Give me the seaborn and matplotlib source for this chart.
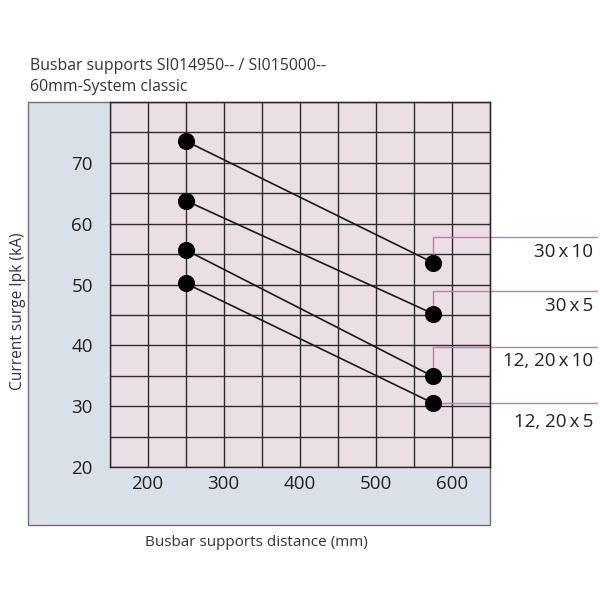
import matplotlib
matplotlib.use("Agg")
import matplotlib.pyplot as plt
from matplotlib.patches import Rectangle
import numpy as np
import pandas as pd
import seaborn as sns

# data
series = ["30x10", "30x5", "12, 20x10", "12, 20x5"]
dist_left = [250, 250, 250, 250]
dist_right = [575, 575, 575, 575]
ipk_left = [73.6, 63.8, 55.7, 50.2]
ipk_right = [53.6, 45.2, 34.9, 30.5]
label_line_y = [57.8, 49.0, 39.8, 30.5]   # kA level of the pink leader lines
label_text_y = [55.4, 46.4, 37.4, 27.4]
xticks = [200, 300, 400, 500, 600]
yticks = [20, 30, 40, 50, 60, 70]

rows = []
for s, x0, x1, y0, y1 in zip(series, dist_left, dist_right, ipk_left, ipk_right):
    rows.append({"series": s, "dist": x0, "ipk": y0})
    rows.append({"series": s, "dist": x1, "ipk": y1})
df = pd.DataFrame(rows)

sns.set_theme(style="white")
plt.rcParams['font.family'] = ['Open Sans', 'DejaVu Sans']

fig = plt.figure(figsize=(6, 6), dpi=100)
fig.patch.set_facecolor("white")

# blue backdrop panel
fig.patches.append(Rectangle((28 / 600, 1 - 525 / 600), (490 - 28) / 600, (525 - 102) / 600,
                             transform=fig.transFigure, facecolor="#d9e0e8",
                             edgecolor="#707070", linewidth=1.0, zorder=-1))

ax = fig.add_axes([109.5 / 600, 1 - 467 / 600, (490 - 109.5) / 600, (467 - 102) / 600])
ax.set_zorder(1)
ax.set_facecolor("#e9dfe5")
ax.set_xlim(150, 650)
ax.set_ylim(20, 80)
ax.set_xticks(np.arange(150, 651, 50), minor=True)
ax.set_yticks(np.arange(20, 81, 5), minor=True)
ax.set_xticks(xticks)
ax.set_yticks(yticks)
ax.grid(which="both", color="#2b2b2b", linewidth=1.0)
ax.set_axisbelow(True)
for sp in ax.spines.values():
    sp.set_color("#2b2b2b")
    sp.set_linewidth(1.0)
ax.tick_params(which="both", length=0, labelsize=13.5, colors="#222222")
ax.tick_params(axis="x", pad=6)
ax.tick_params(axis="y", pad=12)

for s in series:
    d = df[df["series"] == s]
    sns.lineplot(data=d, x="dist", y="ipk", ax=ax, color="#1a1a1a", linewidth=1.2,
                 legend=False, zorder=3)
sns.scatterplot(data=df, x="dist", y="ipk", ax=ax, color="black", s=130,
                edgecolor="black", legend=False, zorder=4)
ax.set_xlabel("")
ax.set_ylabel("")

# pink leader lines and series labels
for s, x1, y1, ly, ty in zip(series, dist_right, ipk_right, label_line_y, label_text_y):
    ax.plot([x1, x1], [y1, ly], color="#c77aa3", linewidth=1.0, zorder=2, clip_on=False)
    ax.plot([x1, 790], [ly, ly], color="#c77aa3", linewidth=1.0, zorder=2, clip_on=False)
    ax.text(786, ty, s.replace("x", "\u2009x\u2009"), ha="right", va="center", fontsize=13.5,
            color="#222222", clip_on=False)

fig.text(30 / 600, 1 - 66 / 600, "Busbar supports SI014950-- / SI015000--",
         fontsize=11.4, color="#333333", va="center", ha="left")
fig.text(30 / 600, 1 - 87 / 600, "60mm-System classic",
         fontsize=11.4, color="#333333", va="center", ha="left")
fig.text(18 / 600, 1 - 311 / 600, "Current surge Ipk (kA)", rotation=90,
         fontsize=11.2, color="#333333", va="center", ha="center")
fig.text(256 / 600, 1 - 542 / 600, "Busbar supports distance (mm)",
         fontsize=11, color="#333333", va="center", ha="center")

fig.savefig("out.png", dpi=100)
